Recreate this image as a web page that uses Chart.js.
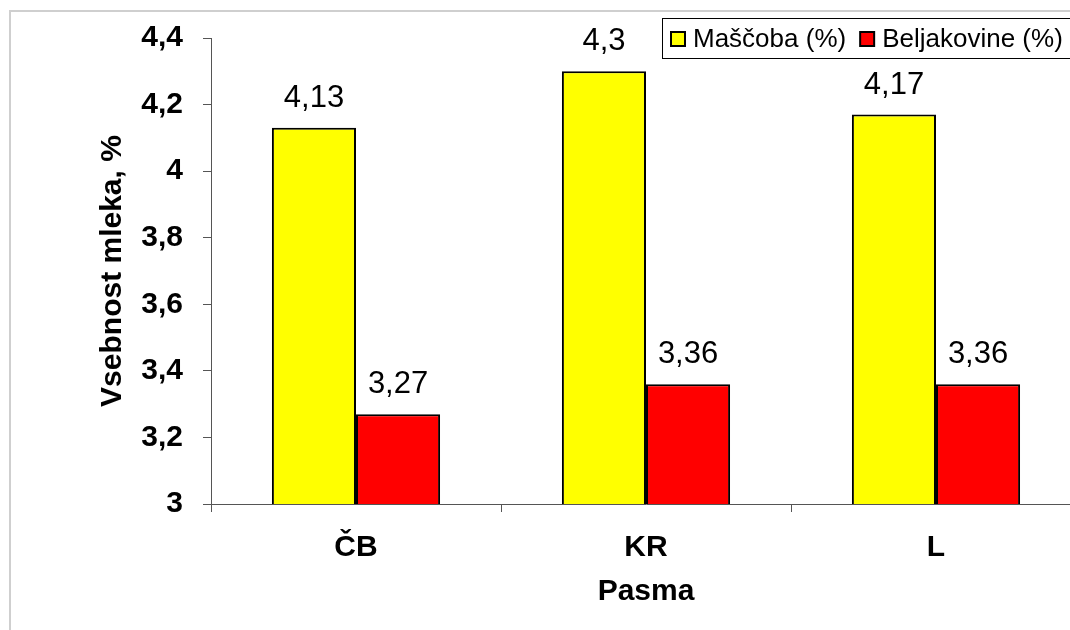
<!DOCTYPE html>
<html>
<head>
<meta charset="utf-8">
<script src="https://cdn.jsdelivr.net/npm/chart.js@4/dist/chart.umd.min.js"></script>
<style>
  html, body { margin: 0; padding: 0; background: #fff; overflow: hidden; }
  #wrap { position: relative; width: 1070px; height: 630px; overflow: hidden; }
  #frame { position: absolute; left: 9px; top: 10px; width: 1200px; height: 700px;
           border-left: 2px solid #cfcfcf; border-top: 2px solid #cfcfcf; }
  #milk { position: absolute; left: 0; top: 0; }
</style>
</head>
<body>
<div id="wrap">
  <div id="frame"></div>
  <canvas id="milk" width="1100" height="630"></canvas>
</div>
<script>
const breeds = ["ČB", "KR", "L"];
const fatValues = [4.13, 4.3, 4.17];
const proteinValues = [3.27, 3.36, 3.36];
const yTicks = [3, 3.2, 3.4, 3.6, 3.8, 4, 4.2, 4.4];

const FONT = "'Liberation Sans', Arial, sans-serif";
const commaNum = (v) => String(Math.round(v * 100) / 100).replace(".", ",");

// value labels above every bar
const barLabels = {
  id: "barLabels",
  afterDatasetsDraw(chart) {
    const ctx = chart.ctx;
    ctx.save();
    ctx.font = "31px " + FONT;
    ctx.fillStyle = "#000";
    ctx.textAlign = "center";
    ctx.textBaseline = "alphabetic";
    chart.data.datasets.forEach((ds, i) => {
      chart.getDatasetMeta(i).data.forEach((bar, j) => {
        ctx.fillText(commaNum(ds.data[j]), bar.x, bar.y - 21);
      });
    });
    ctx.restore();
  },
};

// boxed legend in the top right corner
const boxLegend = {
  id: "boxLegend",
  afterDraw(chart) {
    const ctx = chart.ctx;
    ctx.save();
    ctx.strokeStyle = "#000";
    ctx.lineWidth = 1;
    ctx.strokeRect(662.5, 18.5, 440, 40);
    ctx.font = "26px " + FONT;
    ctx.textBaseline = "middle";
    ctx.textAlign = "left";
    let x = 671;
    const cy = 39;
    chart.data.datasets.forEach((ds) => {
      ctx.fillStyle = ds.backgroundColor;
      ctx.fillRect(x, cy - 7, 14, 14);
      ctx.lineWidth = 2;
      ctx.strokeRect(x, cy - 7, 14, 14);
      ctx.fillStyle = "#000";
      ctx.fillText(ds.label, x + 22, cy + 1);
      x += 22 + ctx.measureText(ds.label).width + 14;
    });
    ctx.restore();
  },
};

new Chart(document.getElementById("milk"), {
  type: "bar",
  data: {
    labels: breeds,
    datasets: [
      {
        label: "Maščoba (%)",
        data: fatValues,
        backgroundColor: "#FFFF00",
        borderColor: "#000",
        borderWidth: 2,
        borderSkipped: false,
        categoryPercentage: 0.58,
        barPercentage: 1.0,
      },
      {
        label: "Beljakovine (%)",
        data: proteinValues,
        backgroundColor: "#FF0000",
        borderColor: "#000",
        borderWidth: 2,
        borderSkipped: false,
        categoryPercentage: 0.58,
        barPercentage: 1.0,
      },
    ],
  },
  options: {
    responsive: false,
    animation: false,
    events: [],
    layout: { padding: { left: 80, top: 37, right: 19, bottom: 0 } },
    plugins: {
      legend: { display: false },
      tooltip: { enabled: false },
    },
    scales: {
      x: {
        afterFit: (scale) => { scale.height = 126; },
        border: { color: "#555", width: 1 },
        grid: { offset: true, drawOnChartArea: false, tickLength: 8, color: "#555" },
        ticks: { color: "#000", padding: 18, font: { family: FONT, size: 30, weight: "bold" } },
        title: {
          display: true,
          text: "Pasma",
          color: "#000",
          padding: { top: 0, bottom: 20 },
          font: { family: FONT, size: 30, weight: "bold" },
        },
      },
      y: {
        min: yTicks[0],
        max: yTicks[yTicks.length - 1],
        afterFit: (scale) => { scale.width = 131; },
        afterBuildTicks: (scale) => { scale.ticks = yTicks.map((v) => ({ value: v })); },
        border: { color: "#555", width: 1 },
        grid: { drawOnChartArea: false, tickLength: 8, color: "#555" },
        ticks: {
          color: "#000",
          padding: 20,
          font: { family: FONT, size: 30, weight: "bold" },
          callback: (v) => commaNum(v),
        },
        title: {
          display: true,
          text: "Vsebnost mleka, %",
          color: "#000",
          padding: { top: 15, bottom: 0 },
          font: { family: FONT, size: 30, weight: "bold" },
        },
      },
    },
  },
  plugins: [barLabels, boxLegend],
});
</script>
</body>
</html>
